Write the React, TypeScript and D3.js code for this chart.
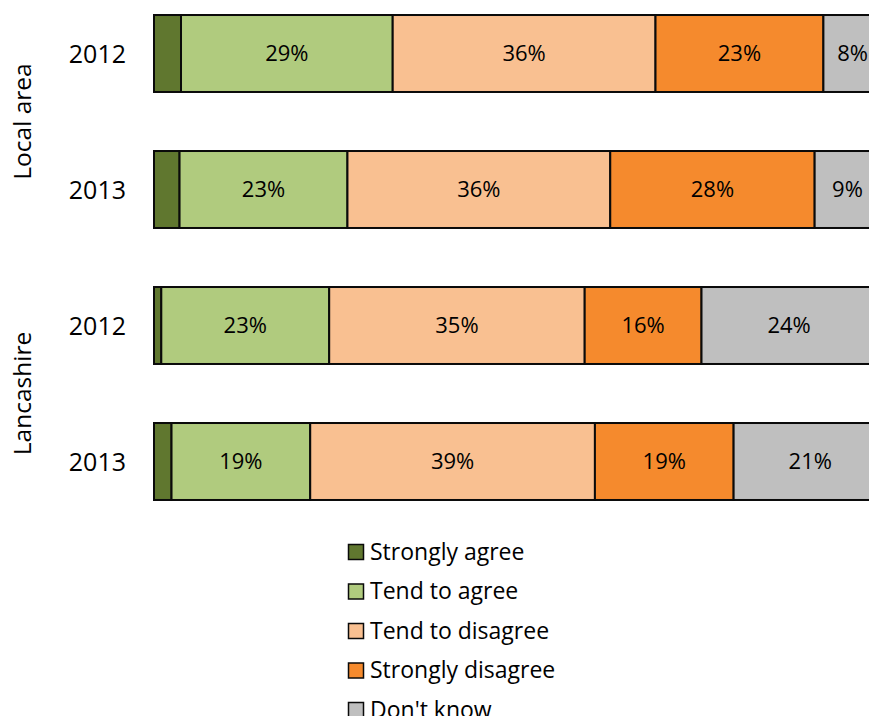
import React from "react";
import * as d3 from "d3";

// Survey responses per area and year (percent of respondents)
const rows = ["Local area 2012", "Local area 2013", "Lancashire 2012", "Lancashire 2013"];
const yearLabels = ["2012", "2013", "2012", "2013"];
const groups = ["Local area", "Lancashire"];

const seriesNames = ["Strongly agree", "Tend to agree", "Tend to disagree", "Strongly disagree", "Don't know"];
const stronglyAgree = [3.7, 3.5, 1, 2.4];
const tendToAgree = [29, 23, 23, 19];
const tendToDisagree = [36, 36, 35, 39];
const stronglyDisagree = [23, 28, 16, 19];
const dontKnow = [8, 9, 24, 21];
const labelledSeries = ["Tend to agree", "Tend to disagree", "Strongly disagree", "Don't know"];

const colors = ["#60772F", "#B0CB7E", "#F9C091", "#F58A2D", "#BFBFBF"];

const W = 869;
const H = 716;
const FONT = "'Open Sans', 'DejaVu Sans', sans-serif";

export default function App() {
  const table = rows.map((r, i) => ({
    row: r,
    "Strongly agree": stronglyAgree[i],
    "Tend to agree": tendToAgree[i],
    "Tend to disagree": tendToDisagree[i],
    "Strongly disagree": stronglyDisagree[i],
    "Don't know": dontKnow[i],
  }));

  const stacked = d3.stack<any>().keys(seriesNames)(table);

  const x = d3.scaleLinear().domain([0, 100]).range([154, 884]);
  const y = d3
    .scaleBand<string>()
    .domain(rows)
    .range([-14.5, 529.5])
    .paddingInner(0.434)
    .paddingOuter(0.217);
  const color = d3.scaleOrdinal<string, string>().domain(seriesNames).range(colors);

  const legendY = d3.scalePoint<string>().domain(seriesNames).range([552, 710]);

  // group label centred between its two bars
  const groupCenter = (gi: number) => {
    const a = y(rows[gi * 2])! + y.bandwidth() / 2;
    const b = y(rows[gi * 2 + 1])! + y.bandwidth() / 2;
    return (a + b) / 2;
  };

  return (
    <svg
      width={W}
      height={H}
      style={{ position: "absolute", left: 0, top: 0, background: "#fff", overflow: "hidden" }}
      fontFamily={FONT}
    >
      <defs>
        <clipPath id="plot-clip">
          <rect x={0} y={0} width={W} height={H} />
        </clipPath>
      </defs>

      <g clipPath="url(#plot-clip)">
        {stacked.map((s) => (
          <g key={s.key}>
            {s.map((d, i) => (
              <rect
                key={i}
                x={x(d[0])}
                y={y(rows[i])}
                width={x(d[1]) - x(d[0])}
                height={y.bandwidth()}
                fill={color(s.key)}
                stroke="#0a0a0a"
                strokeWidth={2}
              />
            ))}
          </g>
        ))}
        {stacked
          .filter((s) => labelledSeries.includes(s.key))
          .map((s) => (
            <g key={s.key + "-labels"}>
              {s.map((d, i) => (
                <text
                  key={i}
                  x={(x(d[0]) + x(d[1])) / 2}
                  y={y(rows[i])! + y.bandwidth() / 2}
                  dy="0.36em"
                  textAnchor="middle"
                  fontSize={22}
                  fill="#000"
                >
                  {`${d3.format(".0f")((d.data as any)[s.key])}%`}
                </text>
              ))}
            </g>
          ))}
      </g>

      {rows.map((r, i) => (
        <text
          key={r}
          x={126}
          y={y(r)! + y.bandwidth() / 2}
          dy="0.36em"
          textAnchor="end"
          fontSize={25}
          fill="#000"
        >
          {yearLabels[i]}
        </text>
      ))}

      {groups.map((g, gi) => (
        <text
          key={g}
          transform={`translate(22,${groupCenter(gi)}) rotate(-90)`}
          dy="0.36em"
          textAnchor="middle"
          fontSize={24.5}
          fill="#000"
        >
          {g}
        </text>
      ))}

      {seriesNames.map((name) => (
        <g key={name} transform={`translate(348,${legendY(name)})`}>
          <rect x={0.5} y={-7.5} width={15} height={15} fill={color(name)} stroke="#0a0a0a" strokeWidth={1.5} />
          <text x={22} y={0} dy="0.34em" fontSize={23} fill="#000">
            {name}
          </text>
        </g>
      ))}
    </svg>
  );
}
